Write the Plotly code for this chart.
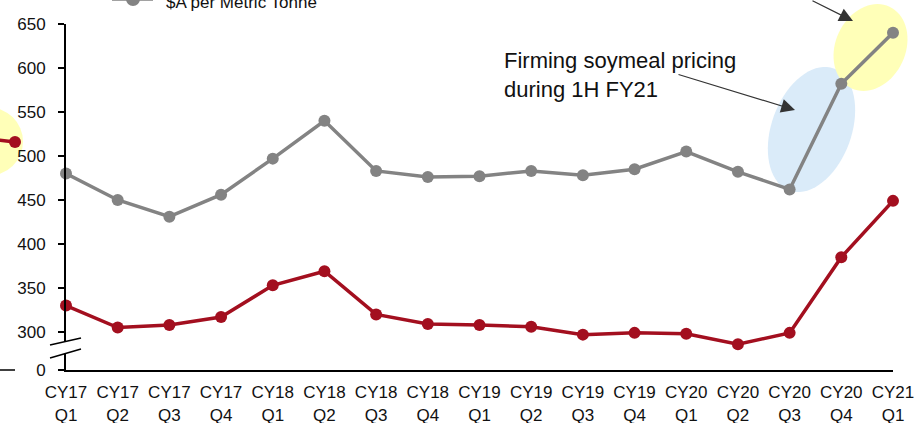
import math
import plotly.graph_objects as go

# ---------------- data ----------------
quarters = ["CY17<br>Q1", "CY17<br>Q2", "CY17<br>Q3", "CY17<br>Q4",
            "CY18<br>Q1", "CY18<br>Q2", "CY18<br>Q3", "CY18<br>Q4",
            "CY19<br>Q1", "CY19<br>Q2", "CY19<br>Q3", "CY19<br>Q4",
            "CY20<br>Q1", "CY20<br>Q2", "CY20<br>Q3", "CY20<br>Q4",
            "CY21<br>Q1"]
soymeal_price = [480, 450, 431, 456, 497, 540, 483, 476, 477, 483, 478, 485,
                 505, 482, 462, 582, 640]
other_price = [330, 305, 308, 317, 353, 369, 320, 309, 308, 306, 297, 299,
               298, 286, 299, 385, 449]
# fragment of a neighbouring chart visible at the left edge
neighbour_vals = [518, 516]
y_tick_vals = [300, 350, 400, 450, 500, 550, 600, 650]
legend_label = "$A per Metric Tonne"

# ---------------- style ----------------
FONT = "Liberation Sans, Arial, sans-serif"
GRAY = "#838383"
RED = "#a30f1f"
W, H = 914, 423
L, R, T, B = 66, 21, 24, 53
PW, PH = W - L - R, H - T - B
Y_BREAK = 256.8  # axis value where the "0" of the broken axis sits
Y_MAX = 650


def px(x):
    return (x - L) / PW


def py(y):
    return (H - B - y) / PH


def val_to_paper(v):
    return (v - Y_BREAK) / (Y_MAX - Y_BREAK)


def ellipse_path(cx, cy, a, b, theta_deg, n=72):
    th = math.radians(theta_deg)
    ux, uy = math.sin(th), -math.cos(th)      # major-axis direction (screen)
    vx, vy = math.cos(th), math.sin(th)       # minor-axis direction
    pts = []
    for i in range(n):
        t = 2 * math.pi * i / n
        sx = cx + a * math.cos(t) * ux + b * math.sin(t) * vx
        sy = cy + a * math.cos(t) * uy + b * math.sin(t) * vy
        pts.append(f"{px(sx):.5f},{py(sy):.5f}")
    return "M" + " L".join(pts) + " Z"


xs = list(range(len(quarters)))

fig = go.Figure()
fig.add_trace(go.Scatter(x=xs, y=soymeal_price, mode="lines+markers",
                         line=dict(color=GRAY, width=3.5),
                         marker=dict(color=GRAY, size=12),
                         cliponaxis=False, showlegend=False))
fig.add_trace(go.Scatter(x=xs, y=other_price, mode="lines+markers",
                         line=dict(color=RED, width=3.5),
                         marker=dict(color=RED, size=12),
                         cliponaxis=False, showlegend=False))

nb0, nb1 = (val_to_paper(v) for v in neighbour_vals)

shapes = [
    # highlight ellipses
    dict(type="path", xref="paper", yref="paper", layer="below",
         path=ellipse_path(811.5, 129.5, 65, 40, 20),
         fillcolor="#daebf9", line=dict(width=0)),
    dict(type="path", xref="paper", yref="paper", layer="below",
         path=ellipse_path(870.5, 47.5, 45, 35, 25),
         fillcolor="#ffffb8", line=dict(width=0)),
    dict(type="circle", xref="paper", yref="paper", layer="below",
         x0=px(-48), x1=px(23), y0=py(176), y1=py(107),
         fillcolor="#ffffb8", line=dict(width=0)),
    # neighbour chart fragment
    dict(type="line", xref="paper", yref="paper",
         x0=px(-2), x1=px(15), y0=nb0, y1=nb1,
         line=dict(color=RED, width=3.5)),
    dict(type="circle", xref="paper", yref="paper",
         x0=px(9), x1=px(21), y0=nb1 - 6 / PH, y1=nb1 + 6 / PH,
         fillcolor=RED, line=dict(width=0)),
    dict(type="line", xref="paper", yref="paper",
         x0=px(0), x1=px(15), y0=py(370), y1=py(370),
         line=dict(color="black", width=1.5)),
    # axis break
    dict(type="path", xref="paper", yref="paper",
         path=f"M{px(50)},{py(345)} L{px(81)},{py(338)} L{px(81)},{py(349)} L{px(50)},{py(358)} Z",
         fillcolor="white", line=dict(width=0)),
    dict(type="line", xref="paper", yref="paper",
         x0=px(50), x1=px(81), y0=py(345), y1=py(338),
         line=dict(color="black", width=1.5)),
    dict(type="line", xref="paper", yref="paper",
         x0=px(50), x1=px(81), y0=py(358), y1=py(349),
         line=dict(color="black", width=1.5)),
    # legend stub (cut at top)
    dict(type="line", xref="paper", yref="paper",
         x0=px(112), x1=px(153), y0=py(-1), y1=py(-1),
         line=dict(color=GRAY, width=3.5)),
    dict(type="circle", xref="paper", yref="paper",
         x0=px(126), x1=px(140), y0=py(6), y1=py(-8),
         fillcolor=GRAY, line=dict(width=0)),
]

annotations = [
    dict(xref="paper", yref="paper", x=px(164), y=py(2.5), xanchor="left",
         yanchor="middle", text=legend_label, showarrow=False,
         font=dict(family=FONT, size=17, color="#111")),
    dict(xref="paper", yref="paper", x=px(502), y=py(75), xanchor="left",
         yanchor="middle", align="left",
         text="Firming soymeal pricing<br>during 1H FY21", showarrow=False,
         font=dict(family=FONT, size=22, color="#111")),
    dict(xref="paper", yref="paper", x=px(795), y=py(110),
         ax=-118, ay=-36, text="",
         showarrow=True, arrowhead=2, arrowsize=2.3, arrowwidth=1.2,
         arrowcolor="#333"),
    dict(xref="paper", yref="paper", x=px(853), y=py(21),
         ax=-42, ay=-30, text="",
         showarrow=True, arrowhead=2, arrowsize=2.3, arrowwidth=1.2,
         arrowcolor="#333"),
]

fig.update_layout(
    width=W, height=H,
    margin=dict(l=L, r=R, t=T, b=B, autoexpand=False),
    paper_bgcolor="white", plot_bgcolor="white",
    font=dict(family=FONT, size=17, color="#111"),
    shapes=shapes, annotations=annotations,
    xaxis=dict(range=[0, len(quarters) - 1], tickvals=xs, ticktext=quarters,
               showline=True, linecolor="black", linewidth=2, ticks="",
               showgrid=False, zeroline=False, fixedrange=True,
               automargin=False, ticklabeloverflow="allow",
               ticklabelstandoff=6),
    yaxis=dict(range=[Y_BREAK, Y_MAX], tickvals=[Y_BREAK] + y_tick_vals,
               ticktext=["0"] + [str(v) for v in y_tick_vals],
               showline=True, linecolor="black", linewidth=2,
               ticks="outside", ticklen=6, tickwidth=1.5, tickcolor="black",
               showgrid=False, zeroline=False, fixedrange=True,
               automargin=False, ticklabelstandoff=9),
)

fig.write_html("out.html", config={"displayModeBar": False},
               post_script="document.body.style.margin='0px';"
                           "document.body.style.overflow='hidden';")
